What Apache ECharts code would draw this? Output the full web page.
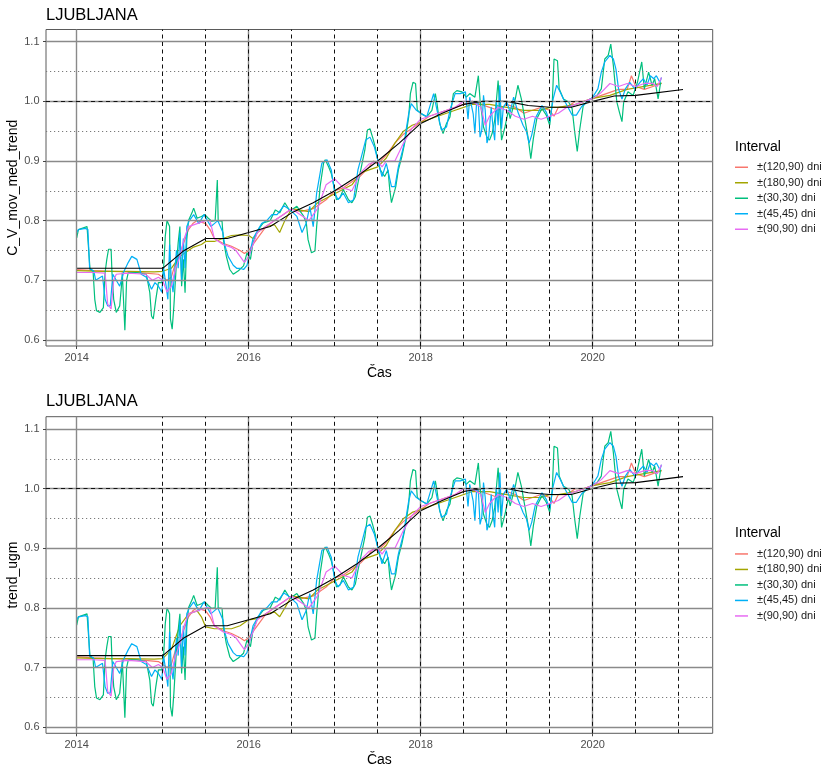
<!DOCTYPE html>
<html>
<head>
<meta charset="utf-8">
<script src="https://cdn.jsdelivr.net/npm/echarts@6/dist/echarts.min.js"></script>
<style>html,body{margin:0;padding:0;background:#fff}#c{width:825px;height:769px}</style>
</head>
<body>
<div id="c"></div>
<script>
// ---- data (decimal year, value) ----
const seriesNames = ['±(120,90) dni', '±(180,90) dni', '±(30,30) dni', '±(45,45) dni', '±(90,90) dni'];
const seriesColors = ['#F8766D', '#A3A500', '#00BF7D', '#00B0F6', '#E76BF3'];
const panelTitles = ['LJUBLJANA', 'LJUBLJANA'];
const yAxisTitles = ['C_V_mov_med_trend', 'trend_ugm'];
const xAxisTitle = 'Čas';
const legendTitle = 'Interval';
const xTickLabels = [2014, 2016, 2018, 2020];
const yTickLabels = [0.6, 0.7, 0.8, 0.9, 1.0, 1.1];
const yMinorLines = [0.65, 0.75, 0.85, 0.95, 1.05];
const dashedYears = [2015, 2015.5, 2016, 2016.5, 2017, 2017.5, 2018, 2018.5, 2019, 2019.5, 2020, 2020.5, 2021];
const refValue = 1.0;

const s120 = [[2014.00,0.718],[2014.2,0.716],[2014.4,0.715],[2014.6,0.714],[2014.8,0.712],[2014.95,0.71],[2015.0,0.705],[2015.05,0.70],[2015.1,0.705],[2015.15,0.73],[2015.2,0.745],[2015.25,0.765],[2015.3,0.785],[2015.35,0.795],[2015.4,0.80],[2015.5,0.795],[2015.55,0.785],[2015.6,0.77],[2015.7,0.762],[2015.8,0.757],[2015.9,0.75],[2015.95,0.745],[2016.0,0.75],[2016.05,0.76],[2016.15,0.78],[2016.2,0.79],[2016.3,0.80],[2016.4,0.81],[2016.5,0.82],[2016.6,0.815],[2016.75,0.82],[2016.9,0.835],[2017.0,0.85],[2017.1,0.855],[2017.2,0.865],[2017.3,0.875],[2017.4,0.89],[2017.45,0.9],[2017.5,0.895],[2017.6,0.91],[2017.7,0.93],[2017.8,0.945],[2017.9,0.955],[2018.0,0.965],[2018.1,0.975],[2018.2,0.98],[2018.3,0.985],[2018.4,0.99],[2018.5,0.995],[2018.6,1.0],[2018.7,0.995],[2018.8,0.99],[2018.9,0.985],[2019.0,0.995],[2019.1,0.99],[2019.2,0.98],[2019.3,0.985],[2019.4,0.99],[2019.5,0.985],[2019.55,0.975],[2019.6,0.99],[2019.7,0.99],[2019.8,1.0],[2019.9,1.0],[2020.0,1.005],[2020.1,1.01],[2020.2,1.015],[2020.3,1.02],[2020.4,1.02],[2020.45,1.043],[2020.5,1.025],[2020.6,1.02],[2020.7,1.025],[2020.8,1.03]];

const s180 = [[2014.0,0.716],[2014.3,0.715],[2014.6,0.715],[2014.9,0.714],[2015.0,0.715],[2015.1,0.72],[2015.2,0.74],[2015.35,0.755],[2015.45,0.76],[2015.5,0.765],[2015.6,0.765],[2015.7,0.77],[2015.8,0.775],[2015.9,0.776],[2016.0,0.775],[2016.05,0.77],[2016.1,0.78],[2016.2,0.79],[2016.3,0.793],[2016.36,0.78],[2016.42,0.80],[2016.5,0.82],[2016.7,0.815],[2016.8,0.83],[2017.0,0.845],[2017.2,0.86],[2017.3,0.88],[2017.4,0.885],[2017.5,0.89],[2017.6,0.905],[2017.7,0.93],[2017.8,0.95],[2017.9,0.96],[2018.0,0.965],[2018.2,0.975],[2018.4,0.985],[2018.6,0.995],[2018.8,0.995],[2019.0,0.99],[2019.2,0.985],[2019.4,0.985],[2019.5,0.99],[2019.6,0.99],[2019.8,0.995],[2020.0,1.005],[2020.2,1.01],[2020.4,1.02],[2020.6,1.025],[2020.8,1.03]];

// lower panel (trend_ugm) version of the ±(180,90) series
const s180b = [[2014.0,0.716],[2014.3,0.715],[2014.6,0.715],[2014.9,0.714],[2015.0,0.715],[2015.1,0.73],[2015.2,0.77],[2015.3,0.79],[2015.4,0.795],[2015.45,0.785],[2015.5,0.768],[2015.6,0.765],[2015.8,0.765],[2015.9,0.77],[2016.0,0.78],[2016.1,0.782],[2016.2,0.79],[2016.3,0.793],[2016.36,0.785],[2016.42,0.80],[2016.5,0.82],[2016.7,0.815],[2016.8,0.83],[2017.0,0.845],[2017.2,0.86],[2017.3,0.88],[2017.4,0.885],[2017.5,0.89],[2017.6,0.905],[2017.7,0.93],[2017.8,0.95],[2017.9,0.96],[2018.0,0.965],[2018.2,0.975],[2018.4,0.985],[2018.6,0.995],[2018.8,0.995],[2019.0,0.99],[2019.2,0.985],[2019.4,0.985],[2019.5,0.99],[2019.6,0.99],[2019.8,0.995],[2020.0,1.005],[2020.2,1.01],[2020.4,1.02],[2020.6,1.025],[2020.8,1.03]];

const s30 = [[2014.00,0.771],[2014.02,0.785],[2014.12,0.79],[2014.135,0.79],[2014.155,0.718],[2014.19,0.716],[2014.21,0.668],[2014.23,0.649],[2014.27,0.646],[2014.31,0.654],[2014.33,0.713],[2014.35,0.735],[2014.37,0.752],[2014.40,0.752],[2014.41,0.713],[2014.43,0.668],[2014.46,0.646],[2014.50,0.657],[2014.52,0.69],[2014.53,0.713],[2014.56,0.616],[2014.575,0.613],[2014.58,0.70],[2014.60,0.713],[2014.70,0.713],[2014.81,0.71],[2014.85,0.679],[2014.87,0.64],[2014.89,0.635],[2014.92,0.668],[2014.95,0.696],[2014.99,0.696],
[2015.01,0.718],[2015.03,0.774],[2015.05,0.80],[2015.08,0.79],[2015.09,0.635],[2015.11,0.618],[2015.13,0.657],[2015.155,0.718],[2015.18,0.763],[2015.20,0.79],[2015.22,0.69],[2015.24,0.735],[2015.26,0.679],[2015.28,0.768],[2015.30,0.80],[2015.34,0.813],[2015.36,0.821],[2015.40,0.804],[2015.45,0.807],[2015.49,0.81],[2015.53,0.804],[2015.57,0.799],[2015.61,0.80],[2015.635,0.868],[2015.645,0.80],[2015.69,0.799],[2015.705,0.768],[2015.74,0.74],[2015.78,0.718],[2015.82,0.71],[2015.88,0.716],[2015.94,0.724],[2015.98,0.746],[2016.02,0.735],[2016.05,0.763],[2016.11,0.785],[2016.17,0.796],[2016.25,0.80],[2016.31,0.818],[2016.36,0.813],[2016.42,0.83],[2016.48,0.816],
[2016.56,0.824],[2016.64,0.807],[2016.67,0.796],[2016.69,0.768],[2016.73,0.746],[2016.77,0.749],[2016.79,0.79],[2016.83,0.857],[2016.87,0.896],[2016.89,0.902],[2016.93,0.89],[2016.96,0.879],[2017.00,0.852],[2017.02,0.835],[2017.06,0.838],[2017.10,0.852],[2017.16,0.835],[2017.20,0.83],[2017.24,0.84],[2017.27,0.863],[2017.31,0.89],[2017.35,0.918],[2017.38,0.952],[2017.41,0.954],[2017.44,0.94],[2017.47,0.924],[2017.50,0.902],[2017.53,0.885],[2017.58,0.874],[2017.62,0.885],[2017.64,0.852],[2017.66,0.83],[2017.68,0.827],[2017.71,0.857],[2017.74,0.885],[2017.78,0.907],[2017.82,0.935],[2017.86,0.974],[2017.88,1.013],[2017.91,1.032],[2017.94,1.03],[2017.96,0.985],[2018.01,0.979],[2018.07,0.974],[2018.13,0.985],[2018.17,1.013],[2018.19,0.996],[2018.22,0.963],[2018.26,0.946],[2018.30,0.963],[2018.34,0.974],[2018.38,1.013],[2018.42,1.018],[2018.48,1.016],[2018.53,1.007],[2018.57,1.013],[2018.63,1.007],[2018.67,1.043],[2018.69,1.002],[2018.73,0.957],[2018.77,0.94],[2018.80,0.935],[2018.83,0.946],[2018.86,0.968],[2018.90,1.035],[2018.94,0.935],[2018.98,0.957],[2019.02,0.985],
[2019.04,0.971],[2019.10,1.004],[2019.13,1.027],[2019.17,1.004],[2019.21,0.971],[2019.25,0.938],[2019.28,0.904],[2019.31,0.938],[2019.35,0.971],[2019.41,0.988],[2019.46,0.977],[2019.50,0.96],[2019.53,0.999],[2019.55,1.071],[2019.59,1.068],[2019.61,1.021],[2019.66,1.004],[2019.72,0.999],[2019.76,0.988],[2019.79,0.949],[2019.82,0.916],[2019.85,0.954],[2019.89,0.993],[2019.97,1.004],[2020.05,1.01],[2020.10,1.021],[2020.14,1.071],[2020.18,1.077],[2020.21,1.096],[2020.24,1.06],[2020.28,0.999],[2020.31,0.982],[2020.34,0.966],[2020.36,0.999],[2020.41,1.016],[2020.47,1.01],[2020.52,1.032],[2020.57,1.066],[2020.60,1.021],[2020.65,1.049],[2020.69,1.027],[2020.72,1.038],[2020.76,1.004],[2020.79,1.032]];

const s45 = [[2014.00,0.78],[2014.02,0.785],[2014.10,0.787],[2014.13,0.785],[2014.15,0.72],[2014.20,0.715],[2014.22,0.70],[2014.30,0.707],[2014.33,0.668],[2014.36,0.657],[2014.39,0.657],[2014.42,0.71],[2014.46,0.70],[2014.50,0.69],[2014.55,0.715],[2014.60,0.73],[2014.64,0.74],[2014.70,0.735],[2014.75,0.71],[2014.81,0.705],[2014.87,0.685],[2014.91,0.696],[2014.95,0.69],[2014.99,0.68],
[2015.01,0.72],[2015.04,0.69],[2015.06,0.668],[2015.08,0.76],[2015.10,0.70],[2015.12,0.68],[2015.16,0.75],[2015.18,0.72],[2015.20,0.78],[2015.22,0.70],[2015.24,0.77],[2015.26,0.72],[2015.28,0.79],[2015.31,0.80],[2015.36,0.81],[2015.42,0.795],[2015.48,0.81],[2015.52,0.80],[2015.56,0.79],[2015.60,0.795],[2015.64,0.80],[2015.67,0.79],[2015.70,0.78],[2015.72,0.76],[2015.76,0.74],[2015.82,0.725],[2015.86,0.72],[2015.90,0.72],[2015.94,0.718],[2015.98,0.725],[2016.02,0.75],[2016.05,0.77],[2016.09,0.78],[2016.15,0.795],[2016.21,0.80],[2016.27,0.81],[2016.33,0.81],[2016.41,0.825],[2016.48,0.818],
[2016.56,0.807],[2016.62,0.78],[2016.67,0.796],[2016.71,0.824],[2016.75,0.79],[2016.79,0.846],[2016.85,0.896],[2016.91,0.902],[2016.96,0.885],[2017.00,0.846],[2017.04,0.835],[2017.10,0.846],[2017.16,0.83],[2017.22,0.835],[2017.27,0.885],[2017.31,0.907],[2017.36,0.935],[2017.41,0.94],[2017.46,0.924],[2017.50,0.902],[2017.55,0.874],[2017.60,0.896],[2017.66,0.857],[2017.70,0.857],[2017.74,0.89],[2017.80,0.924],[2017.86,0.979],[2017.89,0.996],[2017.95,0.985],[2018.01,0.979],[2018.07,0.974],[2018.15,1.013],[2018.19,0.985],[2018.24,0.952],[2018.30,0.957],[2018.34,0.985],[2018.40,1.013],[2018.46,1.013],[2018.52,1.016],[2018.55,0.97],[2018.57,1.007],[2018.61,0.979],[2018.63,0.946],[2018.65,1.0],[2018.67,0.996],[2018.69,0.94],[2018.71,0.952],[2018.73,1.01],[2018.75,0.985],[2018.77,0.93],[2018.79,0.94],[2018.82,0.99],[2018.84,0.957],[2018.86,0.935],[2018.88,1.002],[2018.90,0.96],[2018.92,1.027],[2018.94,0.954],[2018.96,0.99],[2019.00,0.999],[2019.04,0.982],[2019.08,1.007],[2019.13,0.982],[2019.19,0.96],[2019.23,0.949],[2019.26,0.93],[2019.29,0.943],[2019.33,0.971],[2019.37,0.982],[2019.41,0.993],[2019.46,0.982],[2019.50,0.966],[2019.54,1.004],[2019.58,1.027],[2019.62,1.016],[2019.66,1.004],[2019.72,0.988],[2019.76,0.977],[2019.81,0.977],[2019.87,0.991],[2019.93,0.999],[2020.00,1.007],[2020.06,1.021],[2020.10,1.049],[2020.14,1.066],[2020.20,1.077],[2020.24,1.071],[2020.27,1.054],[2020.30,1.021],[2020.34,1.004],[2020.38,1.021],[2020.43,1.032],[2020.49,1.021],[2020.55,1.032],[2020.59,1.038],[2020.63,1.027],[2020.67,1.043],[2020.71,1.038],[2020.74,1.043],[2020.78,1.032],[2020.80,1.04]];

const s90 = [[2014.0,0.713],[2014.2,0.713],[2014.33,0.712],[2014.36,0.66],[2014.40,0.652],[2014.43,0.70],[2014.46,0.71],[2014.6,0.712],[2014.8,0.71],[2014.88,0.70],[2014.95,0.705],[2015.0,0.70],[2015.05,0.68],[2015.1,0.69],[2015.15,0.72],[2015.2,0.74],[2015.25,0.77],[2015.3,0.79],[2015.4,0.795],[2015.5,0.80],[2015.55,0.80],[2015.6,0.77],[2015.65,0.765],[2015.7,0.76],[2015.8,0.755],[2015.85,0.75],[2015.9,0.74],[2015.95,0.73],[2016.0,0.74],[2016.05,0.76],[2016.1,0.78],[2016.2,0.79],[2016.3,0.80],[2016.4,0.81],[2016.5,0.82],[2016.6,0.81],[2016.7,0.80],[2016.8,0.82],[2016.9,0.86],[2017.0,0.87],[2017.1,0.855],[2017.2,0.85],[2017.3,0.88],[2017.4,0.895],[2017.5,0.90],[2017.55,0.89],[2017.6,0.90],[2017.7,0.90],[2017.8,0.93],[2017.9,0.955],[2018.0,0.97],[2018.1,0.975],[2018.2,0.98],[2018.3,0.985],[2018.4,0.99],[2018.5,1.0],[2018.6,1.0],[2018.7,0.99],[2018.75,0.96],[2018.8,0.975],[2018.9,0.99],[2019.0,0.985],[2019.1,0.975],[2019.2,0.97],[2019.3,0.975],[2019.4,0.97],[2019.5,0.975],[2019.6,0.98],[2019.7,0.99],[2019.8,0.995],[2019.9,1.0],[2020.0,1.005],[2020.1,1.015],[2020.2,1.03],[2020.3,1.025],[2020.4,1.03],[2020.5,1.025],[2020.6,1.03],[2020.7,1.03],[2020.75,1.025],[2020.8,1.04]];

const trend = [[2014.0,0.72],[2015.0,0.72],[2015.25,0.75],[2015.5,0.77],[2015.75,0.77],[2016.0,0.78],[2016.25,0.79],[2016.5,0.813],[2016.75,0.83],[2017.0,0.85],[2017.25,0.873],[2017.5,0.90],[2017.75,0.93],[2018.0,0.963],[2018.25,0.98],[2018.5,0.995],[2018.72,1.0],[2019.0,1.0],[2019.25,0.993],[2019.5,0.99],[2019.75,0.99],[2020.0,1.0],[2020.25,1.009],[2020.5,1.01],[2021.05,1.02]];

const panelSeriesData = [
  [s120, s180, s30, s45, s90],
  [s120, s180b, s30, s45, s90]
];

// ---- layout ----
const FONT = '"Liberation Sans", Arial, Helvetica, sans-serif';
const X_MIN = 2013.643, X_MAX = 2021.395;
const Y_MIN = 0.5897, Y_MAX = 1.1205;
const panels = [
  { top: 29.5, height: 316.5, titleY: 15, axisTitleY: 373.3, legendTop: 159.5, legendTitleY: 146.7 },
  { top: 416.7, height: 316.6, titleY: 401.7, axisTitleY: 760, legendTop: 546.2, legendTitleY: 533.3 }
];
const GRID_LEFT = 46, GRID_W = 666.7;

const grids = [], xAxes = [], yAxes = [], series = [], legends = [], graphics = [];

panels.forEach((p, i) => {
  grids.push({ left: GRID_LEFT, top: p.top, width: GRID_W, height: p.height, show: true,
    borderColor: '#5a5a5a', borderWidth: 1, backgroundColor: '#ffffff', containLabel: false });
  xAxes.push({ type: 'value', gridIndex: i, min: X_MIN, max: X_MAX,
    axisLine: { show: false }, splitLine: { show: false },
    axisTick: { show: true, length: 3, customValues: xTickLabels, lineStyle: { color: '#444' } },
    axisLabel: { customValues: xTickLabels, margin: 6, color: '#4d4d4d', fontSize: 11, fontFamily: FONT,
      formatter: v => String(Math.round(v)) } });
  yAxes.push({ type: 'value', gridIndex: i, min: Y_MIN, max: Y_MAX,
    axisLine: { show: false }, splitLine: { show: false },
    axisTick: { show: true, length: 3, customValues: yTickLabels, lineStyle: { color: '#444' } },
    axisLabel: { customValues: yTickLabels, margin: 6.5, color: '#4d4d4d', fontSize: 11, fontFamily: FONT,
      formatter: v => v.toFixed(1) } });

  const guide = (data, lineStyle) => ({
    type: 'line', xAxisIndex: i, yAxisIndex: i, data: [], silent: true, z: 1,
    markLine: { silent: true, symbol: ['none', 'none'], animation: false, label: { show: false },
      lineStyle: lineStyle, emphasis: { disabled: true }, data: data }
  });
  series.push(guide(yMinorLines.map(v => ({ yAxis: v })), { color: '#7a7a7a', width: 1, type: [1.2, 2.8] }));
  series.push(guide(xTickLabels.map(v => ({ xAxis: v })).concat(yTickLabels.map(v => ({ yAxis: v }))),
    { color: '#8a8a8a', width: 1.4, type: 'solid' }));
  series.push(guide(dashedYears.map(v => ({ xAxis: v })).concat([{ yAxis: refValue }]),
    { color: '#111', width: 1, type: [4, 3.5] }));

  seriesNames.forEach((name, k) => {
    series.push({ type: 'line', name: name, xAxisIndex: i, yAxisIndex: i, data: panelSeriesData[i][k],
      showSymbol: false, symbol: 'none', z: 3, color: seriesColors[k],
      lineStyle: { width: 1.2, color: seriesColors[k] }, emphasis: { disabled: true } });
  });
  series.push({ type: 'line', name: 'trend', xAxisIndex: i, yAxisIndex: i, data: trend,
    showSymbol: false, symbol: 'none', z: 4, lineStyle: { width: 1.1, color: '#000' }, emphasis: { disabled: true } });

  legends.push({ data: seriesNames, orient: 'vertical', left: 735, top: p.legendTop, padding: 0,
    itemGap: 0, icon: 'rect', itemWidth: 13, itemHeight: 1.5, selectedMode: false,
    textStyle: { fontSize: 11, fontFamily: FONT, color: '#1a1a1a', lineHeight: 15.5, padding: [0, 0, 0, 4] } });

  graphics.push({ type: 'text', x: 46, y: p.titleY, style: { text: panelTitles[i], fontSize: 16.5, fontFamily: FONT,
    fill: '#000', align: 'left', verticalAlign: 'middle' } });
  graphics.push({ type: 'text', x: GRID_LEFT + GRID_W / 2, y: p.axisTitleY, style: { text: xAxisTitle, fontSize: 14,
    fontFamily: FONT, fill: '#000', align: 'center', verticalAlign: 'middle' } });
  graphics.push({ type: 'text', x: 13.5, y: p.top + p.height / 2, rotation: Math.PI / 2, style: { text: yAxisTitles[i],
    fontSize: 14, fontFamily: FONT, fill: '#000', align: 'center', verticalAlign: 'middle' } });
  graphics.push({ type: 'text', x: 735, y: p.legendTitleY, style: { text: legendTitle, fontSize: 14,
    fontFamily: FONT, fill: '#000', align: 'left', verticalAlign: 'middle' } });
});

const chart = echarts.init(document.getElementById('c'), null, { renderer: 'canvas' });
chart.setOption({
  backgroundColor: '#ffffff',
  animation: false,
  grid: grids, xAxis: xAxes, yAxis: yAxes, series: series, legend: legends,
  graphic: { elements: graphics }
});
</script>
</body>
</html>
